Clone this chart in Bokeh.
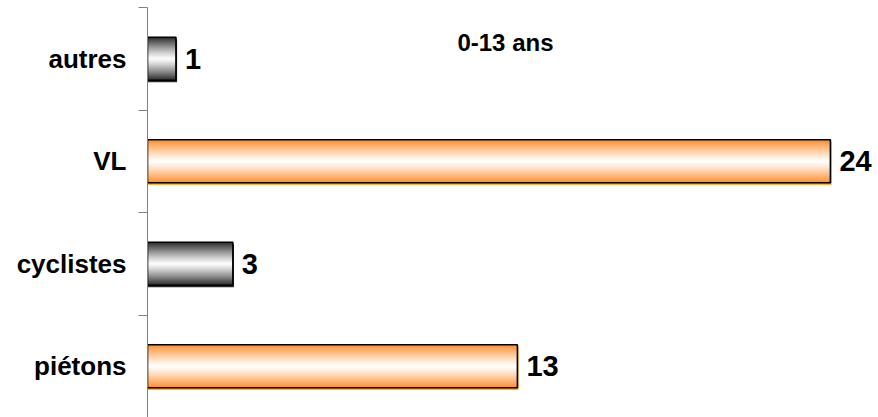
from bokeh.plotting import figure
from bokeh.models import ColumnDataSource, FixedTicker, Range1d, Label
from bokeh.core.properties import value
from bokeh.transform import dodge
from bokeh.embed import file_html
from bokeh.resources import INLINE

# Casualties by road-user category, children aged 0-13
categories = ["piétons", "cyclistes", "VL", "autres"]
counts = [13, 3, 24, 1]
title_text = "0-13 ans"

# Bar styling: orange for pedestrians / cars, grey for the others
edge_colors = ["#FF8F2E", "#2E2E2E", "#FF8F2E", "#2E2E2E"]
shadow_colors = ["#FF9900", "#2A2A2A", "#FF9900", "#2A2A2A"]

FONT = "Liberation Sans"
BAR_H = 0.42
N_STEPS = 24


def blend_white(hex_color, w):
    r, g, b = (int(hex_color[i:i + 2], 16) for i in (1, 3, 5))
    r = round(r + (255 - r) * w)
    g = round(g + (255 - g) * w)
    b = round(b + (255 - b) * w)
    return f"#{r:02x}{g:02x}{b:02x}"


ys = [i + 0.5 for i in range(len(categories))]
data = dict(
    y=ys,
    count=counts,
    label=[str(c) for c in counts],
    shadow=shadow_colors,
)
# one colour column per gradient step (linear fade towards the bar's middle)
for k in range(N_STEPS):
    f = 1 - k / N_STEPS
    data[f"grad{k}"] = [blend_white(c, 1 - f ** 1.2) for c in edge_colors]
source = ColumnDataSource(data)

p = figure(
    width=878, height=417,
    x_range=Range1d(0, 25.69), y_range=Range1d(0, len(categories)),
    x_axis_location=None, y_axis_location="left",
    output_backend="svg", toolbar_location=None,
    min_border_left=147, min_border_right=0,
    min_border_top=7, min_border_bottom=0,
)
p.outline_line_color = None
p.xgrid.visible = False
p.ygrid.visible = False
p.background_fill_color = "white"
p.border_fill_color = "white"

# drop shadow slightly below / right of each bar
p.hbar(y=dodge("y", -0.02), left=0, right=dodge("count", 0.04),
       height=BAR_H, fill_color="shadow", line_color=None, source=source)

# vertical gradient: nested bars fading from the edge colour to white
for k in range(N_STEPS):
    f = 1 - k / N_STEPS
    p.hbar(y="y", left=0, right="count", height=BAR_H * f,
           fill_color=f"grad{k}", line_color=None, source=source)

# bar outline
p.hbar(y="y", left=0, right="count", height=BAR_H, fill_color=None,
       line_color="black", line_width=1.6, source=source)

# value labels
p.text(x="count", y="y", text="label", x_offset=9, text_baseline="middle",
       text_align="left", text_font=value(FONT), text_font_style="bold",
       text_font_size="29px", text_color="black", source=source)

ax = p.yaxis[0]
ax.ticker = FixedTicker(ticks=ys, minor_ticks=list(range(len(categories) + 1)))
ax.major_label_overrides = {y: c for y, c in zip(ys, categories)}
ax.major_tick_out = 0
ax.major_tick_in = 0
ax.minor_tick_out = 9
ax.minor_tick_in = 0
ax.minor_tick_line_color = "#808080"
ax.axis_line_color = "#808080"
ax.axis_line_width = 1
ax.major_label_standoff = 12
ax.major_label_text_font = FONT
ax.major_label_text_font_style = "bold"
ax.major_label_text_font_size = "26px"
ax.major_label_text_color = "black"

p.add_layout(Label(x=12.58, y=3.66, text=title_text, text_align="center",
                   text_baseline="alphabetic", text_font=FONT,
                   text_font_style="bold", text_font_size="24px",
                   text_color="black"))

open("out.html", "w").write(file_html(p, INLINE))
